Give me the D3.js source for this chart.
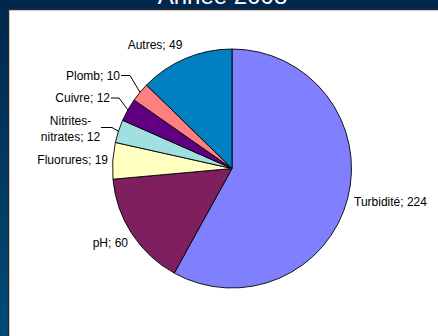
<!DOCTYPE html>
<html>
<head>
<meta charset="utf-8">
<script src="https://cdn.jsdelivr.net/npm/d3@7"></script>
<style>
  html, body { margin: 0; padding: 0; background: #002a52; }
  svg { display: block; }
  text { font-family: "Liberation Sans", Arial, sans-serif; }
</style>
</head>
<body>
<svg id="chart" width="438" height="336"></svg>
<script>
// Causes of non-compliance, year 2008
const categories = ["Turbidité", "pH", "Fluorures", "Nitrites-nitrates", "Cuivre", "Plomb", "Autres"];
const counts = [224, 60, 19, 12, 12, 10, 49];
const sliceColors = ["#8080ff", "#7f1f5f", "#ffffc0", "#a0e0e0", "#600080", "#ff8080", "#0080c0"];
const labelLines = [["Turbidité; 224"], ["pH; 60"], ["Fluorures; 19"], ["Nitrites-", "nitrates; 12"],
                    ["Cuivre; 12"], ["Plomb; 10"], ["Autres; 49"]];
const title = "Année 2008";

// label placement relative to the pie centre (anchor, dx, dy, leader elbow length)
const labelLayout = [
  { anchor: "start",  dx: 122,    dy: 33.5,  elbow: 0 },
  { anchor: "end",    dx: -104,   dy: 74.5,  elbow: 0 },
  { anchor: "end",    dx: -124,   dy: -8.5,  elbow: 0 },
  { anchor: "middle", dx: -161.5, dy: -39.5, elbow: 11, lineStartDx: -131, lineDy: -41 },
  { anchor: "end",    dx: -122,   dy: -70.5, elbow: 8 },
  { anchor: "end",    dx: -112,   dy: -93,   elbow: 9 },
  { anchor: "middle", dx: -77,    dy: -123.5, elbow: 0 }
];

const W = 438, H = 336;
const cx = 232, cy = 168.5, R = 119.5;

const svg = d3.select("#chart");
const defs = svg.append("defs");
const grad = defs.append("linearGradient").attr("id", "bg")
  .attr("x1", 0).attr("y1", 0).attr("x2", 0).attr("y2", 1);
grad.append("stop").attr("offset", "0%").attr("stop-color", "#00264c");
grad.append("stop").attr("offset", "100%").attr("stop-color", "#004d79");

svg.append("rect").attr("width", W).attr("height", H).attr("fill", "url(#bg)");

// title
svg.append("text")
  .attr("x", 222.5).attr("y", 3.5)
  .attr("text-anchor", "middle")
  .attr("fill", "#ffffff")
  .attr("font-size", 24)
  .text(title);

// white plot panel
svg.append("rect")
  .attr("x", 8.5).attr("y", 9.5)
  .attr("width", W).attr("height", H)
  .attr("fill", "#ffffff")
  .attr("stroke", "#2a2a2a")
  .attr("stroke-width", 1.5);

const data = categories.map((c, i) => ({ cat: c, value: counts[i], color: sliceColors[i], lines: labelLines[i], layout: labelLayout[i] }));

const pie = d3.pie().sort(null).value(d => d.value);
const arcs = pie(data);
const arc = d3.arc().innerRadius(0).outerRadius(R);
const edge = d3.arc().innerRadius(R).outerRadius(R);

const g = svg.append("g").attr("transform", `translate(${cx},${cy})`);

g.selectAll("path.slice")
  .data(arcs)
  .join("path")
  .attr("class", "slice")
  .attr("d", arc)
  .attr("fill", d => d.data.color)
  .attr("stroke", "#000")
  .attr("stroke-width", 0.9)
  .attr("stroke-linejoin", "round");

// leader lines for the small slices
arcs.filter(d => d.data.layout.elbow > 0).forEach(d => {
  const L = d.data.layout;
  const [ex, ey] = edge.centroid(d);
  const sx = L.lineStartDx !== undefined ? L.lineStartDx : L.dx + 1;
  const sy = L.lineDy !== undefined ? L.lineDy : L.dy;
  g.append("path")
    .attr("d", d3.line()([[sx, sy], [sx + L.elbow, sy], [ex, ey]]))
    .attr("fill", "none")
    .attr("stroke", "#000")
    .attr("stroke-width", 1);
});

// data labels
arcs.forEach(d => {
  const L = d.data.layout;
  const n = d.data.lines.length;
  const t = g.append("text")
    .attr("text-anchor", L.anchor)
    .attr("font-size", 12)
    .attr("fill", "#000");
  d.data.lines.forEach((line, k) => {
    t.append("tspan")
      .attr("x", L.dx)
      .attr("y", L.dy + (k - (n - 1) / 2) * 16)
      .attr("dy", "0.35em")
      .text(line);
  });
});
</script>
</body>
</html>
